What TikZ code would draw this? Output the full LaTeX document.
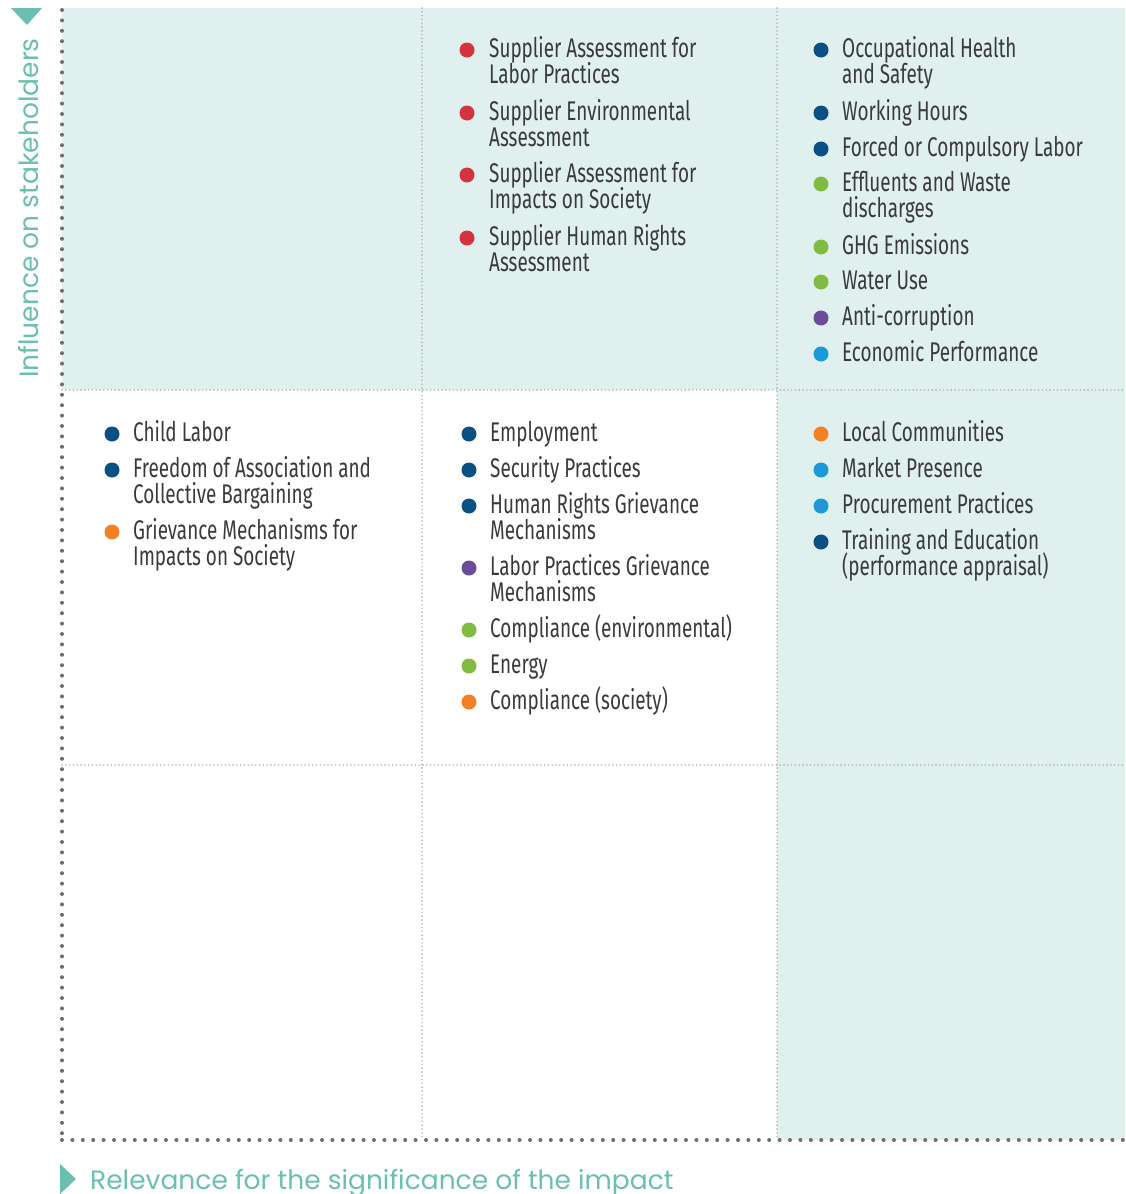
\documentclass[tikz,border=0pt]{standalone}
\usepackage{fontspec}
\setmainfont{Fira Sans}
\newfontfamily\itemfont[FakeStretch=0.70]{Fira Sans}
\newfontfamily\axisfont{Poppins}
\newcommand\topicfont{\itemfont\fontsize{27}{26}\selectfont\lineskiplimit=-30pt\relax}
\usetikzlibrary{positioning}
\definecolor{cellteal}{HTML}{E0F0EF}
\definecolor{axisteal}{HTML}{6BBFB1}
\definecolor{dotgray}{HTML}{6D6E70}
\definecolor{gridgray}{HTML}{A7A9AC}
\definecolor{txtgray}{HTML}{3A3A3C}
\definecolor{redtopic}{HTML}{D4343F}
\definecolor{bluetopic}{HTML}{0A5083}
\definecolor{greentopic}{HTML}{80BC41}
\definecolor{purpletopic}{HTML}{6B4C9A}
\definecolor{orangetopic}{HTML}{F28124}
\definecolor{skytopic}{HTML}{1B9AD7}
\tikzset{
topic/.style={anchor=base west, inner sep=0pt, align=left, text=txtgray, font=\topicfont},
bullet/.style={circle, inner sep=0pt, minimum size=15pt, fill=#1},
axisline/.style={draw=dotgray, line width=4pt, line cap=round, dash pattern=on 0pt off 10.4pt},
gridline/.style={draw=gridgray, line width=1.6pt, line cap=round, dash pattern=on 0pt off 3.8pt},
axislabel/.style={anchor=base west, inner sep=0pt, text=axisteal, font=\axisfont\fontsize{26.5}{26.5}\selectfont},
}

\begin{document}
\begin{tikzpicture}[x=1pt,y=-1pt]
    \useasboundingbox (0,0) rectangle (1125,1194);
    % shaded cells
    \fill[cellteal] (62,8) rectangle (1125,390);
    \fill[cellteal] (777,390) rectangle (1125,1140);
    % grid
    \draw[gridline] (422,8) -- (422,1140);
    \draw[gridline] (777,8) -- (777,1140);
    \draw[gridline] (62,390) -- (1125,390);
    \draw[gridline] (62,765) -- (1125,765);
    % axes
    \draw[axisline] (62,10) -- (62,1140);
    \draw[axisline] (62,1140) -- (1125,1140);
    \fill[axisteal] (11,8) -- (42,8) -- (27,25) -- cycle;
    \fill[axisteal] (60,1164) -- (76,1179) -- (60,1194) -- cycle;
    \node[axislabel, rotate=90] (yaxis) at (38,378) {Influence on stakeholders};
    \node[axislabel] (xaxis) at (90,1189) {Relevance for the significance of the impact};
    % high influence, medium relevance (base = last line)
    \node[bullet=redtopic] (s1) at (467,50) {};
    \node[topic] (s1t) at (489,83) {Supplier Assessment for\\Labor Practices};
    \node[bullet=redtopic] (s2) at (467,113) {};
    \node[topic] (s2t) at (489,146) {Supplier Environmental\\Assessment};
    \node[bullet=redtopic] (s3) at (467,175) {};
    \node[topic] (s3t) at (489,208) {Supplier Assessment for\\Impacts on Society};
    \node[bullet=redtopic] (s4) at (467,238) {};
    \node[topic] (s4t) at (489,271) {Supplier Human Rights\\Assessment};
    % high influence, high relevance
    \node[bullet=bluetopic] (h1) at (821,50) {};
    \node[topic] (h1t) at (842,83) {Occupational Health\\and Safety};
    \node[bullet=bluetopic] (h2) at (821,113) {};
    \node[topic] (h2t) at (842,120) {Working Hours};
    \node[bullet=bluetopic] (h3) at (821,149) {};
    \node[topic] (h3t) at (842,156) {Forced or Compulsory Labor};
    \node[bullet=greentopic] (h4) at (821,184) {};
    \node[topic] (h4t) at (842,217) {Effluents and Waste\\discharges};
    \node[bullet=greentopic] (h5) at (821,247) {};
    \node[topic] (h5t) at (842,254) {GHG Emissions};
    \node[bullet=greentopic] (h6) at (821,282) {};
    \node[topic] (h6t) at (842,289) {Water Use};
    \node[bullet=purpletopic] (h7) at (821,318) {};
    \node[topic] (h7t) at (842,325) {Anti-corruption};
    \node[bullet=skytopic] (h8) at (821,354) {};
    \node[topic] (h8t) at (842,361) {Economic Performance};
    % medium influence, low relevance
    \node[bullet=bluetopic] (l1) at (112,434) {};
    \node[topic] (l1t) at (133,441) {Child Labor};
    \node[bullet=bluetopic] (l2) at (112,470) {};
    \node[topic] (l2t) at (133,503) {Freedom of Association and\\Collective Bargaining};
    \node[bullet=orangetopic] (l3) at (112,532) {};
    \node[topic] (l3t) at (133,565) {Grievance Mechanisms for\\Impacts on Society};
    % medium influence, medium relevance
    \node[bullet=bluetopic] (m1) at (469,434) {};
    \node[topic] (m1t) at (490,441) {Employment};
    \node[bullet=bluetopic] (m2) at (469,470) {};
    \node[topic] (m2t) at (490,477) {Security Practices};
    \node[bullet=bluetopic] (m3) at (469,506) {};
    \node[topic] (m3t) at (490,539) {Human Rights Grievance\\Mechanisms};
    \node[bullet=purpletopic] (m4) at (469,568) {};
    \node[topic] (m4t) at (490,601) {Labor Practices Grievance\\Mechanisms};
    \node[bullet=greentopic] (m5) at (469,630) {};
    \node[topic] (m5t) at (490,637) {Compliance (environmental)};
    \node[bullet=greentopic] (m6) at (469,666) {};
    \node[topic] (m6t) at (490,673) {Energy};
    \node[bullet=orangetopic] (m7) at (469,702) {};
    \node[topic] (m7t) at (490,709) {Compliance (society)};
    % medium influence, high relevance
    \node[bullet=orangetopic] (r1) at (821,434) {};
    \node[topic] (r1t) at (842,441) {Local Communities};
    \node[bullet=skytopic] (r2) at (821,470) {};
    \node[topic] (r2t) at (842,477) {Market Presence};
    \node[bullet=skytopic] (r3) at (821,506) {};
    \node[topic] (r3t) at (842,513) {Procurement Practices};
    \node[bullet=bluetopic] (r4) at (821,542) {};
    \node[topic] (r4t) at (842,575) {Training and Education\\(performance appraisal)};
\end{tikzpicture}
\end{document}
